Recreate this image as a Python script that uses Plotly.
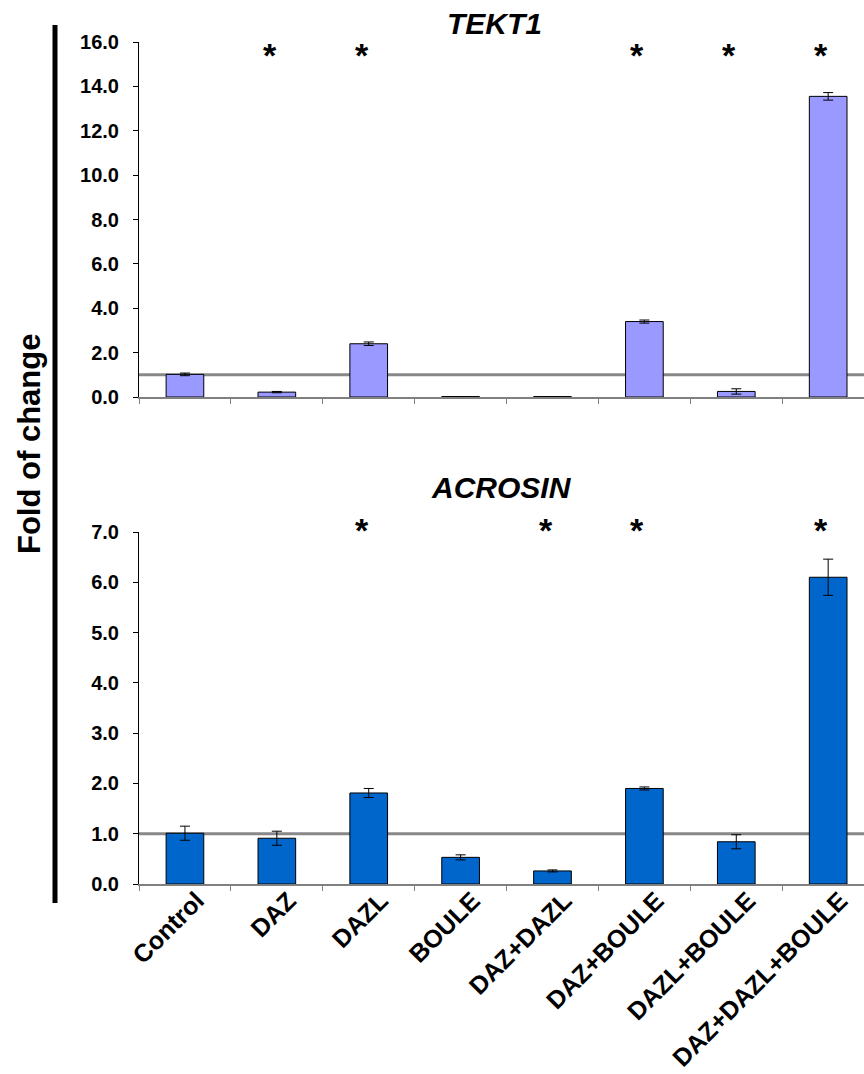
import plotly.graph_objects as go

categories = ["Control", "DAZ", "DAZL", "BOULE", "DAZ+DAZL", "DAZ+BOULE", "DAZL+BOULE", "DAZ+DAZL+BOULE"]

tekt1 = [1.02, 0.22, 2.40, 0.02, 0.02, 3.40, 0.25, 13.55]
tekt1_err = [0.06, 0.03, 0.08, 0.0, 0.0, 0.07, 0.12, 0.17]
tekt1_sig = [0, 1, 1, 0, 0, 1, 1, 1]

acrosin = [1.01, 0.91, 1.81, 0.53, 0.26, 1.90, 0.84, 6.10]
acrosin_err = [0.14, 0.14, 0.09, 0.05, 0.02, 0.03, 0.14, 0.36]
acrosin_sig = [0, 0, 1, 0, 1, 1, 0, 1]

tekt1_ticks = [0, 2, 4, 6, 8, 10, 12, 14, 16]
acrosin_ticks = [0, 1, 2, 3, 4, 5, 6, 7]

W, H = 864, 1074
FONT = "Liberation Sans, Arial, sans-serif"

def py(pix):
    return 1 - pix / H

fig = go.Figure()

fig.add_trace(go.Bar(
    x=categories, y=tekt1, xaxis="x", yaxis="y", width=0.41,
    marker=dict(color="#9999FF", line=dict(color="black", width=1)),
    error_y=dict(type="data", array=tekt1_err, color="black", thickness=1, width=5),
    showlegend=False,
))
fig.add_trace(go.Bar(
    x=categories, y=acrosin, xaxis="x2", yaxis="y2", width=0.41,
    marker=dict(color="#0066CC", line=dict(color="black", width=1)),
    error_y=dict(type="data", array=acrosin_err, color="black", thickness=1, width=5),
    showlegend=False,
))

xdom = [139 / W, 1.0]
xrange = [-0.5, 7.39]
common_x = dict(
    domain=xdom, range=xrange, type="category", showline=True, linecolor="#808080",
    linewidth=2, ticks="outside", tickson="boundaries", ticklen=5, tickcolor="#808080",
    showgrid=False, zeroline=False, fixedrange=True,
)
common_y = dict(
    showline=True, linecolor="black", linewidth=1, ticks="outside", ticklen=5,
    tickcolor="black", showgrid=False, zeroline=False, tickformat=".1f",
    tickfont=dict(family=FONT, size=20, color="black", weight="bold"),
    ticklabelstandoff=10, automargin=False,
)

fig.update_layout(
    width=W, height=H, margin=dict(l=0, r=0, t=0, b=0),
    paper_bgcolor="white", plot_bgcolor="white",
    xaxis=dict(common_x, anchor="y", showticklabels=False),
    yaxis=dict(common_y, domain=[py(397), py(42)], range=[0, 16], tickvals=tekt1_ticks, anchor="x"),
    xaxis2=dict(common_x, anchor="y2", showticklabels=True, tickangle=-45,
                ticklabelstandoff=-10, ticklabelshift=12,
                tickfont=dict(family=FONT, size=25, color="black", weight="bold"), automargin=False),
    yaxis2=dict(common_y, domain=[py(884), py(532)], range=[0, 7], tickvals=acrosin_ticks, anchor="x2"),
    bargap=0.5,
)

# reference lines at 1.0
for xr, yr in (("x", "y"), ("x2", "y2")):
    fig.add_shape(type="line", xref=f"{xr} domain", yref=yr, x0=0, x1=1, y0=1, y1=1,
                  line=dict(color="#888888", width=3), layer="below")

# significance asterisks
for cat, s in zip(categories, tekt1_sig):
    if s:
        fig.add_annotation(x=cat, y=15.42, xref="x", yref="y", text="*", showarrow=False,
                           xshift=-7, font=dict(family=FONT, size=34, color="black", weight="bold"))
for cat, s in zip(categories, acrosin_sig):
    if s:
        fig.add_annotation(x=cat, y=7.0, xref="x2", yref="y2", yshift=2, text="*", showarrow=False,
                           xshift=-7, font=dict(family=FONT, size=34, color="black", weight="bold"))

# panel titles
fig.add_annotation(x=495 / W, y=py(23), xref="paper", yref="paper", text="TEKT1", showarrow=False,
                   xanchor="center", yanchor="middle",
                   font=dict(family=FONT, size=30, color="black", weight="bold", style="italic"))
fig.add_annotation(x=501 / W, y=py(487), xref="paper", yref="paper", text="ACROSIN", showarrow=False,
                   xanchor="center", yanchor="middle",
                   font=dict(family=FONT, size=30, color="black", weight="bold", style="italic"))

# shared axis title and bar
fig.add_annotation(x=29 / W, y=py(444), xref="paper", yref="paper", text="Fold of change",
                   textangle=-90, showarrow=False, xanchor="center", yanchor="middle",
                   font=dict(family=FONT, size=31, color="black", weight="bold"))
fig.add_shape(type="line", xref="paper", yref="paper", x0=55 / W, x1=55 / W, y0=py(903), y1=py(25),
              line=dict(color="black", width=5))

fig.write_html("out.html")
